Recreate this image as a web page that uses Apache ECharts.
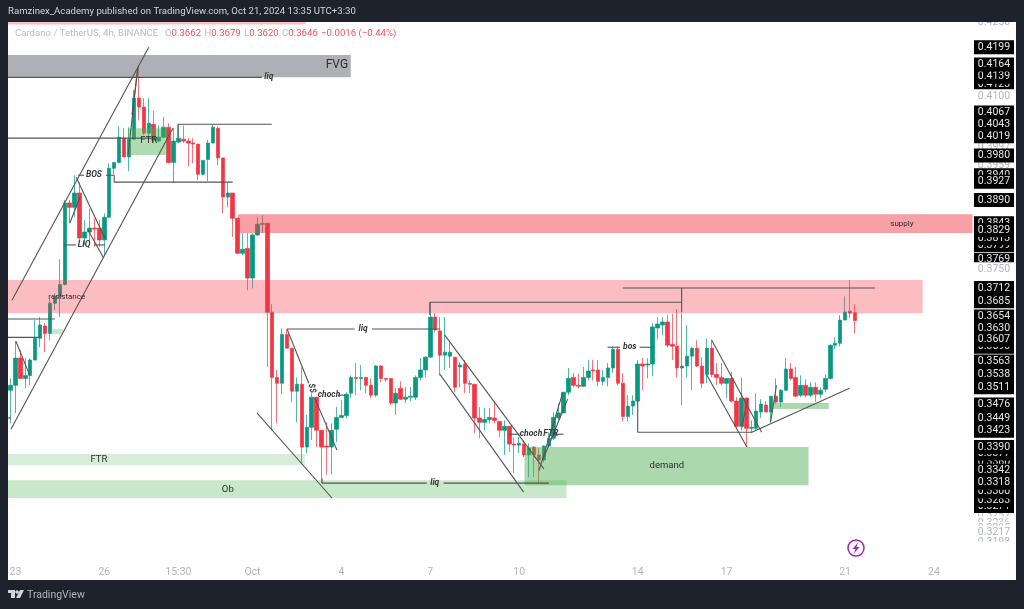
<!DOCTYPE html>
<html>
<head>
<meta charset="utf-8">
<title>ADA/USDT 4h</title>
<style>
  html, body { margin: 0; padding: 0; background: #1e222d; }
  #chart { width: 1024px; height: 609px; }
</style>
<script src="https://cdn.jsdelivr.net/npm/echarts@6/dist/echarts.min.js"></script>
</head>
<body>
<div id="chart"></div>
<script>
// candles, one per 4h bar
const opens = [.3505,.3515,.3570,.3529,.3535,.3566,.3610,.3635,.3620,.3681,.3695,.3719,.3884,.3875,.3904,.3813,.3825,.3833,.3833,.3809,.3855,.3954,.3966,.4015,.3977,.4013,.4096,.4078,.4025,.4043,.4009,.4017,.4037,.3966,.4007,.4013,.4009,.4005,.4003,.3942,.3972,.4005,.4035,.3975,.3896,.3904,.3853,.3782,.3792,.3732,.3819,.3841,.3843,.3663,.3531,.3519,.3618,.3590,.3503,.3517,.3390,.3430,.3491,.3424,.3392,.3390,.3426,.3450,.3454,.3499,.3531,.3529,.3531,.3515,.3495,.3554,.3529,.3529,.3479,.3509,.3487,.3491,.3491,.3531,.3546,.3572,.3653,.3625,.3576,.3574,.3572,.3552,.3558,.3519,.3517,.3449,.3440,.3446,.3449,.3442,.3424,.3432,.3396,.3394,.3396,.3374,.3390,.3374,.3364,.3392,.3408,.3449,.3459,.3501,.3531,.3515,.3513,.3531,.3546,.3546,.3523,.3531,.3550,.3588,.3519,.3452,.3473,.3483,.3558,.3556,.3558,.3631,.3637,.3643,.3598,.3594,.3550,.3554,.3574,.3590,.3554,.3537,.3590,.3537,.3531,.3519,.3529,.3483,.3432,.3489,.3428,.3428,.3461,.3475,.3461,.3493,.3481,.3505,.3548,.3531,.3495,.3515,.3495,.3511,.3497,.3507,.3529,.3596,.3600,.3647,.3665,.3662];
const closes = [.3515,.3570,.3529,.3535,.3566,.3610,.3637,.3620,.3681,.3695,.3719,.3884,.3875,.3904,.3813,.3825,.3833,.3831,.3809,.3855,.3954,.3966,.4017,.3977,.4013,.4096,.4078,.4025,.4045,.4011,.4017,.4037,.3966,.4009,.4015,.4009,.4005,.4003,.3942,.3970,.4005,.4037,.3975,.3896,.3904,.3853,.3782,.3790,.3732,.3819,.3841,.3842,.3663,.3531,.3519,.3618,.3590,.3503,.3517,.3390,.3430,.3491,.3424,.3390,.3390,.3424,.3450,.3454,.3497,.3531,.3529,.3531,.3515,.3495,.3554,.3529,.3527,.3479,.3499,.3487,.3491,.3493,.3531,.3546,.3572,.3653,.3627,.3576,.3582,.3582,.3511,.3556,.3519,.3517,.3449,.3440,.3446,.3450,.3444,.3424,.3432,.3396,.3394,.3398,.3374,.3388,.3374,.3364,.3392,.3408,.3450,.3459,.3501,.3529,.3515,.3513,.3531,.3544,.3544,.3523,.3531,.3550,.3588,.3519,.3452,.3473,.3483,.3558,.3554,.3558,.3633,.3639,.3643,.3596,.3594,.3550,.3554,.3574,.3590,.3554,.3519,.3590,.3537,.3531,.3519,.3529,.3483,.3432,.3489,.3428,.3430,.3463,.3477,.3461,.3493,.3481,.3505,.3548,.3529,.3493,.3515,.3495,.3511,.3497,.3505,.3529,.3596,.3600,.3647,.3663,.3661,.3646];
const lows = [.3438,.3459,.3529,.3509,.3515,.3566,.3592,.3582,.3606,.3667,.3653,.3717,.3843,.3855,.3809,.3799,.3799,.3795,.3795,.3778,.3853,.3942,.3964,.3977,.3948,.4011,.4051,.4021,.4011,.4005,.4007,.4015,.3964,.3924,.4005,.4005,.3958,.3964,.3930,.3940,.3928,.4005,.3960,.3863,.3875,.3815,.3782,.3778,.3707,.3711,.3817,.3823,.3552,.3424,.3438,.3497,.3590,.3481,.3440,.3358,.3378,.3404,.3390,.3317,.3333,.3335,.3400,.3448,.3448,.3489,.3495,.3505,.3499,.3489,.3491,.3521,.3523,.3475,.3455,.3485,.3479,.3483,.3485,.3525,.3531,.3572,.3622,.3535,.3546,.3550,.3501,.3511,.3499,.3499,.3418,.3408,.3424,.3438,.3438,.3410,.3374,.3380,.3337,.3378,.3370,.3329,.3329,.3317,.3359,.3390,.3404,.3444,.3459,.3495,.3511,.3509,.3511,.3525,.3525,.3513,.3515,.3513,.3540,.3515,.3442,.3442,.3455,.3475,.3505,.3529,.3533,.3608,.3616,.3592,.3566,.3531,.3475,.3531,.3505,.3552,.3509,.3519,.3531,.3515,.3515,.3489,.3481,.3430,.3424,.3390,.3418,.3424,.3449,.3461,.3440,.3477,.3471,.3503,.3525,.3491,.3491,.3491,.3491,.3481,.3489,.3501,.3527,.3588,.3594,.3647,.3651,.3620];
const highs = [.3529,.3604,.3586,.3570,.3570,.3647,.3653,.3641,.3691,.3701,.3770,.3890,.3890,.3940,.3926,.3849,.3873,.3853,.3849,.3863,.3964,.3966,.4039,.4035,.4037,.4112,.4163,.4096,.4096,.4071,.4041,.4058,.4045,.4035,.4041,.4041,.4015,.4015,.4003,.3970,.4011,.4043,.4039,.3975,.3924,.3904,.3853,.3823,.3823,.3823,.3855,.3859,.3843,.3679,.3546,.3630,.3628,.3590,.3531,.3551,.3455,.3499,.3491,.3424,.3440,.3438,.3471,.3485,.3501,.3535,.3560,.3556,.3531,.3529,.3556,.3556,.3529,.3529,.3509,.3523,.3511,.3511,.3535,.3570,.3574,.3683,.3661,.3653,.3653,.3602,.3572,.3562,.3566,.3525,.3517,.3471,.3469,.3469,.3479,.3442,.3444,.3432,.3410,.3410,.3404,.3398,.3392,.3388,.3394,.3420,.3461,.3479,.3501,.3550,.3540,.3538,.3552,.3566,.3566,.3566,.3546,.3560,.3594,.3594,.3540,.3495,.3495,.3566,.3570,.3570,.3641,.3653,.3653,.3657,.3659,.3669,.3661,.3637,.3592,.3606,.3572,.3610,.3608,.3560,.3560,.3529,.3542,.3491,.3531,.3491,.3444,.3499,.3487,.3483,.3493,.3529,.3507,.3570,.3560,.3552,.3535,.3527,.3521,.3521,.3511,.3537,.3598,.3612,.3657,.3695,.3728,.3679];

// time axis
const barCount = 196;
const xTickBars = [1, 19, 34, 49, 67, 85, 103, 127, 145, 169, 187];
const xTickTexts = ['23', '26', '15:30', 'Oct', '4', '7', '10', '14', '17', '21', '24'];

// price scale labels, in paint order: plain ticks behind, black drawing tags over them
const backPrices = [.4250, .3997, .3959, .3252, .3236, .3225, .3217, .3198];
const tagPrices = [.4199, .4123, .4139, .4164, .4067, .4019, .4043, .3980, .3940, .3927, .3890, .3799, .3813, .3843, .3829, .3769, .3712, .3685, .3654, .3630, .3593, .3607, .3563, .3538, .3511, .3476, .3449, .3423, .3360, .3377, .3390, .3342, .3271, .3283, .3300, .3318];
const frontPrices = [.4100, .3750];

// zones: bar index from/to, price top/bottom
const zoneNames = ['fvg', 'strip', 'supply', 'resistance', 'ftrHigh', 'smallLeft', 'ftrLow', 'ob', 'demand', 'smallRight'];
const zoneFrom = [-0.5, -0.5, 46.05, -0.5, 23.8, 8.4, -0.5, -0.5, 104.1, 154.1];
const zoneTo = [68.9, 59.8, 194.8, 184.7, 31.7, 10.6, 59.6, 112.6, 161.6, 165.7];
const zoneTop = [.4183, .4250, .3861, .3728, .4035, .3629, .3376, .3323, .3390, .3479];
const zoneBottom = [.4138, .4245, .3823, .3661, .3981, .3618, .3353, .3287, .3313, .3467];

// hand drawn lines: [bar, price, bar, price]
const trendLines = [
  [0.3, .3687, 28, .4199], [-0.5, .4138, 50.9, .4138], [-0.5, .4015, 29.3, .4015],
  [0.1, .3426, 32.9, .4035], [33.9, .4043, 52.9, .4043], [33.9, .4043, 33.9, .4015],
  [21, .3926, 45, .3926], [13.7, .3940, 14.9, .3940], [19.3, .3940, 21, .3940], [21, .3940, 21, .3926],
  [10.8, .3799, 13.3, .3799], [16.9, .3799, 19.1, .3799], [13.3, .3936, 19.1, .3813],
  [15.7, .3829, 18.9, .3772], [12, .3843, 14.1, .3896], [25.8, .4159, 23.8, .3981], [25.8, .4159, 24.6, .4062],
  [-0.5, .3649, 9, .3649], [-0.5, .3612, 6, .3612], [-0.5, .3449, 0.1, .3449], [1.1, .3604, 3.9, .3535],
  [49.9, .3459, 65.1, .3287], [56, .3629, 69.7, .3629], [73.2, .3629, 86.9, .3629], [56, .3629, 60.4, .3519],
  [61.6, .3489, 66.1, .3384], [66.3, .3495, 67.7, .3495], [63.1, .3327, 63.1, .3317],
  [63.1, .3317, 84.3, .3317], [87.7, .3317, 109, .3317], [84.9, .3683, 135.9, .3683], [84.9, .3683, 84.9, .3657],
  [135.9, .3712, 135.9, .3663], [124, .3712, 175, .3712], [87.9, .3617, 108, .3346], [86.9, .3538, 103.9, .3299],
  [100.9, .3416, 103.1, .3416], [110.2, .3416, 112, .3416], [120.9, .3592, 123.4, .3592], [127.4, .3592, 130, .3592],
  [127, .3485, 127, .3420], [127, .3420, 150.1, .3420], [150.1, .3420, 169.9, .3509],
  [107, .3342, 111.8, .3499], [107.8, .3364, 112.8, .3487], [142, .3606, 152.1, .3420],
  [141, .3536, 149.1, .3390], [148.1, .3430, 149.3, .3489], [153.9, .3440, 155.1, .3515],
];

// notes on the chart
const noteTexts = ['FVG', 'liq', 'FTR', 'BOS', 'LIQ', 'resistance', 'supply', 'liq', 'choch', '$$', 'FTR', 'Ob', 'liq', 'choch', 'FTR', 'bos', 'demand'];
const noteBars = [66.1, 52.3, 28, 16.9, 14.9, 11.4, 180.5, 71.4, 64.5, 61, 17.9, 44, 85.9, 105.4, 109.4, 125.4, 132.9];
const notePrices = [.4163, .4138, .4009, .3940, .3799, .3693, .3841, .3629, .3495, .3509, .3364, .3303, .3317, .3416, .3416, .3592, .3352];
const noteKinds = ['big', 'drawn', 'plain', 'drawn', 'drawn', 'small', 'small', 'drawn', 'drawn', 'turned', 'plain', 'plain', 'drawn', 'drawn', 'drawn', 'drawn', 'plain'];

const legendValues = ['0.3662', '0.3679', '0.3620', '0.3646'];

const UP = '#089981';
const DOWN = '#f23645';
const zoneColors = {
  fvg: 'rgba(120,123,134,0.6)',
  strip: 'rgba(242,54,69,0.32)',
  supply: 'rgba(242,54,69,0.48)',
  resistance: 'rgba(242,54,69,0.33)',
  ftrHigh: 'rgba(76,175,80,0.45)',
  smallLeft: 'rgba(76,175,80,0.3)',
  ftrLow: 'rgba(76,175,80,0.22)',
  ob: 'rgba(76,175,80,0.3)',
  demand: 'rgba(76,175,80,0.47)',
  smallRight: 'rgba(76,175,80,0.47)',
};
const noteStyles = {
  big: { fontSize: 12, fontFamily: 'Roboto', fill: '#2e2e2e' },
  plain: { fontSize: 9.5, fontFamily: 'Roboto', fill: '#2e2e2e' },
  small: { fontSize: 8, fontFamily: 'Roboto', fill: '#2e2e2e' },
  drawn: { fontSize: 8.5, fontFamily: 'Roboto', fontStyle: 'italic', fontWeight: 'bold', fill: '#3a3a3a' },
  turned: { fontSize: 8.5, fontFamily: 'Roboto', fontStyle: 'italic', fontWeight: 'bold', fill: '#3a3a3a' },
};

const categories = Array.from({ length: barCount }, (_, i) => {
  const at = xTickBars.indexOf(i);
  return at >= 0 ? xTickTexts[at] : '';
});

const zoneData = zoneNames.map((_, i) => [zoneFrom[i], zoneTop[i], zoneTo[i], zoneBottom[i], i]);
const noteData = noteTexts.map((_, i) => [noteBars[i], notePrices[i], i]);
const plainPrices = backPrices.concat(frontPrices);

const renderZone = (params, api) => {
  const a = api.coord([api.value(0), api.value(1)]);
  const b = api.coord([api.value(2), api.value(3)]);
  const name = zoneNames[api.value(4)];
  return {
    type: 'rect',
    shape: { x: a[0], y: a[1], width: b[0] - a[0], height: b[1] - a[1] },
    style: { fill: zoneColors[name] },
  };
};

const renderLine = (params, api) => {
  const a = api.coord([api.value(0), api.value(1)]);
  const b = api.coord([api.value(2), api.value(3)]);
  return {
    type: 'line',
    shape: { x1: a[0], y1: a[1], x2: b[0], y2: b[1] },
    style: { stroke: '#555', lineWidth: 1.1 },
  };
};

const renderNote = (params, api) => {
  const p = api.coord([api.value(0), api.value(1)]);
  const i = api.value(2);
  const kind = noteKinds[i];
  return {
    type: 'text',
    x: p[0],
    y: p[1],
    rotation: kind === 'turned' ? -Math.PI / 2.3 : 0,
    style: Object.assign({ text: noteTexts[i], textAlign: 'center', textVerticalAlign: 'middle' }, noteStyles[kind]),
  };
};

const option = {
  animation: false,
  backgroundColor: '#1e222d',
  grid: { left: 8, right: 48, top: 22, bottom: 29 },
  xAxis: [
    {
      type: 'category',
      data: categories,
      axisLine: { show: false },
      axisTick: { show: false },
      axisLabel: { inside: true, interval: 0, margin: 2, color: '#b2b5be', fontFamily: 'Roboto', fontSize: 10.5, verticalAlign: 'bottom' },
    },
    { type: 'value', min: -0.5, max: barCount - 0.5, show: false },
  ],
  yAxis: {
    type: 'value',
    position: 'right',
    min: .31211,
    max: .4250,
    splitLine: { show: false },
    axisLine: { show: false },
    axisTick: { show: false },
    axisLabel: {
      margin: -2,
      customValues: backPrices.concat(tagPrices, frontPrices),
      formatter: (v) => (plainPrices.includes(v) ? '{g|' : '{b|') + v.toFixed(4) + '}',
      rich: {
        g: { color: '#b2b5be', backgroundColor: '#fff', fontFamily: 'Roboto', fontSize: 10.5, width: 40, height: 14, lineHeight: 14, align: 'center' },
        b: { color: '#e6e6e6', backgroundColor: '#000', fontFamily: 'Roboto', fontSize: 10.5, width: 40, height: 14, lineHeight: 14, align: 'center' },
      },
    },
  },
  graphic: [
    { type: 'rect', z: -1, shape: { x: 8, y: 22, width: 1008, height: 558 }, style: { fill: '#fff' } },
    // frame goes over the clipped top label
    { type: 'rect', z: 50, shape: { x: 0, y: 0, width: 1024, height: 22 }, style: { fill: '#1e222d' } },
    // the tags under 0.3217 are cut off in the source too
    { type: 'rect', z: 45, shape: { x: 972, y: 541.5, width: 44, height: 14 }, style: { fill: '#fff' } },
    { type: 'text', z: 51, x: 8, y: 12, style: { text: 'Ramzinex_Academy published on TradingView.com, Oct 21, 2024 13:35 UTC+3:30', fill: '#d1d4dc', fontFamily: 'Roboto', fontSize: 9.6, textVerticalAlign: 'middle' } },
    {
      type: 'text', z: 51, x: 15, y: 34,
      style: {
        text: `{t|Cardano / TetherUS, 4h, BINANCE}  {t|O}{v|${legendValues[0]}} {t|H}{v|${legendValues[1]}} {t|L}{v|${legendValues[2]}} {t|C}{v|${legendValues[3]}} {v|−0.0016 (−0.44%)}`,
        textVerticalAlign: 'middle',
        rich: {
          t: { fill: '#b8bbc4', fontFamily: 'Roboto', fontSize: 9.6 },
          v: { fill: '#f2505c', fontFamily: 'Roboto', fontSize: 9.6 },
        },
      },
    },
    // lightning badge
    { type: 'circle', z: 40, shape: { cx: 856, cy: 548, r: 8 }, style: { fill: '#fff', stroke: '#9c27b0', lineWidth: 1.5 } },
    { type: 'polygon', z: 41, shape: { points: [[858, 542.5], [852.5, 549], [855.5, 549], [854, 553.5], [859.5, 547], [856.5, 547]] }, style: { fill: '#9c27b0' } },
    // tv logo
    { type: 'rect', z: 40, shape: { x: 8, y: 590, width: 7, height: 3 }, style: { fill: '#d1d4dc' } },
    { type: 'rect', z: 40, shape: { x: 11, y: 590, width: 4, height: 8 }, style: { fill: '#d1d4dc' } },
    { type: 'circle', z: 40, shape: { cx: 17, cy: 592, r: 1.8 }, style: { fill: '#d1d4dc' } },
    { type: 'polygon', z: 40, shape: { points: [[20, 590], [24, 590], [20, 598], [16, 598]] }, style: { fill: '#d1d4dc' } },
    { type: 'text', z: 40, x: 27, y: 595, style: { text: 'TradingView', fill: '#b2b5be', fontFamily: 'Roboto', fontSize: 10.5, textVerticalAlign: 'middle' } },
  ],
  series: [
    {
      type: 'candlestick',
      xAxisIndex: 0,
      yAxisIndex: 0,
      barWidth: 4,
      z: 2,
      data: opens.map((o, i) => [o, closes[i], lows[i], highs[i]]),
      itemStyle: { color: UP, color0: DOWN, borderColor: 'rgba(8,153,129,0.7)', borderColor0: 'rgba(242,54,69,0.7)', borderWidth: 1 },
    },
    { type: 'custom', xAxisIndex: 1, yAxisIndex: 0, z: 3, clip: true, silent: true, data: zoneData, renderItem: renderZone },
    { type: 'custom', xAxisIndex: 1, yAxisIndex: 0, z: 4, clip: true, silent: true, data: trendLines, renderItem: renderLine },
    { type: 'custom', xAxisIndex: 1, yAxisIndex: 0, z: 5, silent: true, data: noteData, renderItem: renderNote },
  ],
};

echarts.init(document.getElementById('chart')).setOption(option);
</script>
</body>
</html>
